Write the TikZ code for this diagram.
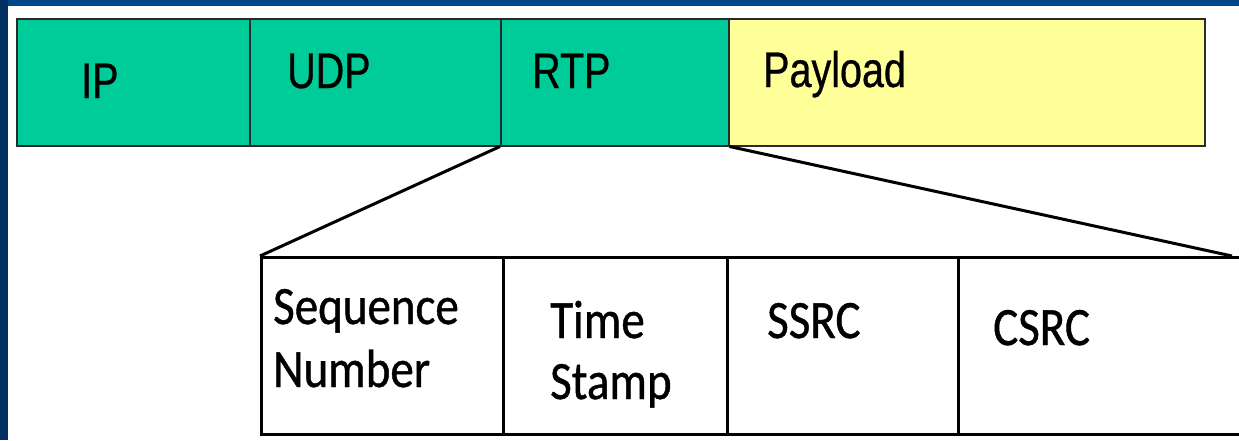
\documentclass[tikz,border=0pt]{standalone}
\usepackage{fontspec}
\newfontfamily\topfont[FakeStretch=0.79,FakeBold=0.6]{Liberation Sans}
\newfontfamily\lowfont[FakeStretch=0.87,FakeBold=0.8]{Carlito}
\definecolor{bgblue}{HTML}{00468C}
\definecolor{cellgreen}{HTML}{00CC99}
\definecolor{cellyellow}{HTML}{FFFF99}
\definecolor{topline}{HTML}{2A2A2A}
\tikzset{
  topcell/.style={draw=topline, line width=1.5pt, rectangle, anchor=north west, inner sep=0pt, minimum height=127pt},
  lowcell/.style={draw=black, line width=3pt, rectangle, anchor=north west, inner sep=0pt, minimum height=177pt, fill=white},
  toptext/.style={anchor=base west, inner sep=0pt, font=\topfont\fontsize{50}{60}\selectfont},
  lowtext/.style={anchor=base west, inner sep=0pt, align=left, font=\lowfont\fontsize{54}{63}\selectfont},
  zoomline/.style={draw=black, line width=3pt}
}
\begin{document}
\begin{tikzpicture}[x=1pt,y=-1pt]
\useasboundingbox (0,0) rectangle (1239,440);
\clip (0,0) rectangle (1239,440);
\fill[bgblue] (0,0) rectangle (1239,440);
\fill[bgblue!70!black] (0,0) rectangle (8,440);
\fill[white] (8,6) rectangle (1239,440);
% top bar
\node[topcell, fill=cellgreen, minimum width=233pt] (ip) at (16,18) {};
\node[topcell, fill=cellgreen, minimum width=251pt] (udp) at (249,18) {};
\node[topcell, fill=cellgreen, minimum width=228pt] (rtp) at (500,18) {};
\node[topcell, fill=cellyellow, minimum width=476pt] (pay) at (728,18) {};
\node[toptext] (tip) at (81,98) {IP};
\node[toptext] (tudp) at (287,88) {UDP};
\node[toptext] (trtp) at (532,88) {RTP};
\node[toptext] (tpay) at (763,87) {Payload};
% lower header
\node[lowcell, minimum width=242pt] (seq) at (260,256) {};
\node[lowcell, minimum width=224pt] (ts) at (502,256) {};
\node[lowcell, minimum width=231pt] (ssrc) at (726,256) {};
\node[lowcell, minimum width=300pt] (csrc) at (957,256) {};
\node[lowtext] (tseq) at (273,387) {Sequence\\Number};
\node[lowtext, font=\lowfont\fontsize{54}{61}\selectfont] (tts) at (550,399) {Time\\Stamp};
\node[lowtext] (tssrc) at (767,338) {SSRC};
\node[lowtext] (tcsrc) at (993,345) {CSRC};
% zoom lines
\coordinate (zr) at (1232,256);
\draw[zoomline] (rtp.south west) -- (seq.north west);
\draw[zoomline] (rtp.south east) -- (zr);
\end{tikzpicture}
\end{document}
